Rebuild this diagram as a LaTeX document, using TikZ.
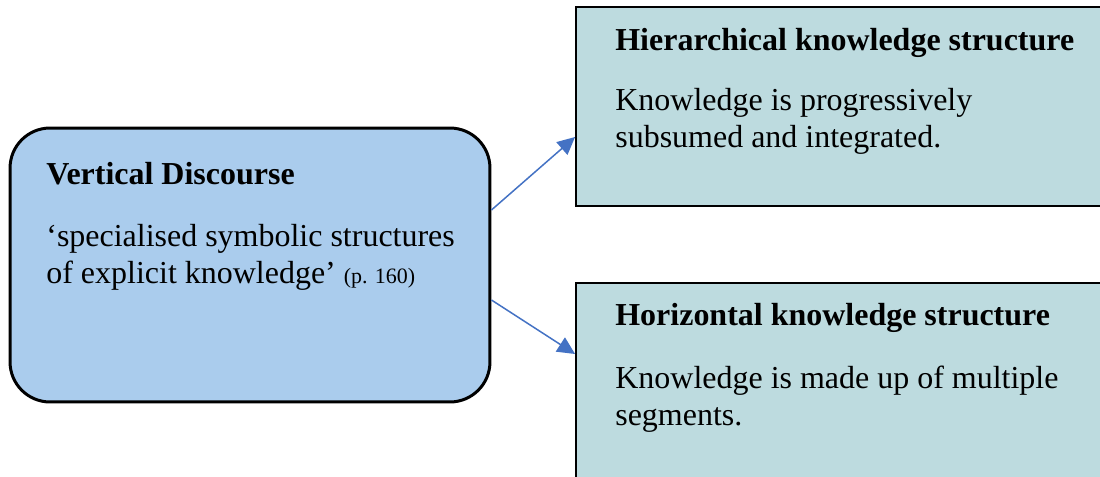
\documentclass[tikz,border=0pt]{standalone}
\usepackage{fontspec}
\setmainfont{Liberation Serif}
\usetikzlibrary{arrows.meta}

\definecolor{vdblue}{RGB}{170,204,237}
\definecolor{ksteal}{RGB}{189,219,223}
\definecolor{arrblue}{RGB}{68,114,196}

\tikzset{
  vdbox/.style={draw=black, line width=1.7pt, fill=vdblue, rounded corners=0.8cm,
    minimum width=9.6cm, minimum height=5.48cm, inner sep=0pt},
  ksbox/.style={draw=black, line width=1.1pt, fill=ksteal,
    minimum width=10.8cm, inner sep=0pt},
  txt/.style={anchor=base west, inner sep=0pt, align=left,
    font=\fontsize{18.2}{21}\selectfont},
  head/.style={txt, font=\fontsize{18.2}{21}\selectfont\bfseries},
  link/.style={draw=arrblue, line width=0.85pt, -{Triangle[length=10pt,width=9.5pt]}}
}

\begin{document}
\begin{tikzpicture}[x=0.02cm,y=-0.02cm]

\clip (0,0) rectangle (1100,477);
\fill[white] (0,0) rectangle (1100,477);

\node[vdbox] (vd) at (250,265) {};
\node[ksbox, minimum height=3.98cm] (hks) at (846,106.5) {};
\node[ksbox, minimum height=4.3cm] (zks) at (846,390.5) {};

% base anchor of two-line texts sits on the last line
\node[head] (vdhead) at (46,184) {Vertical Discourse};
\node[txt] (vdtext) at (46,283) {`specialised symbolic structures\\of explicit knowledge' {\fontsize{12.5}{15}\selectfont (p. 160)}};

\node[head] (hkshead) at (615,50) {Hierarchical knowledge structure};
\node[txt] (hkstext) at (615,147) {Knowledge is progressively\\subsumed and integrated.};

\node[head] (zkshead) at (615,325) {Horizontal knowledge structure};
\node[txt] (zkstext) at (615,425) {Knowledge is made up of multiple\\segments.};

\draw[link] ([yshift=1.1cm]vd.east) -- ([yshift=-0.61cm]hks.west);
\draw[link] ([yshift=-0.7cm]vd.east) -- ([yshift=0.73cm]zks.west);

\end{tikzpicture}
\end{document}
